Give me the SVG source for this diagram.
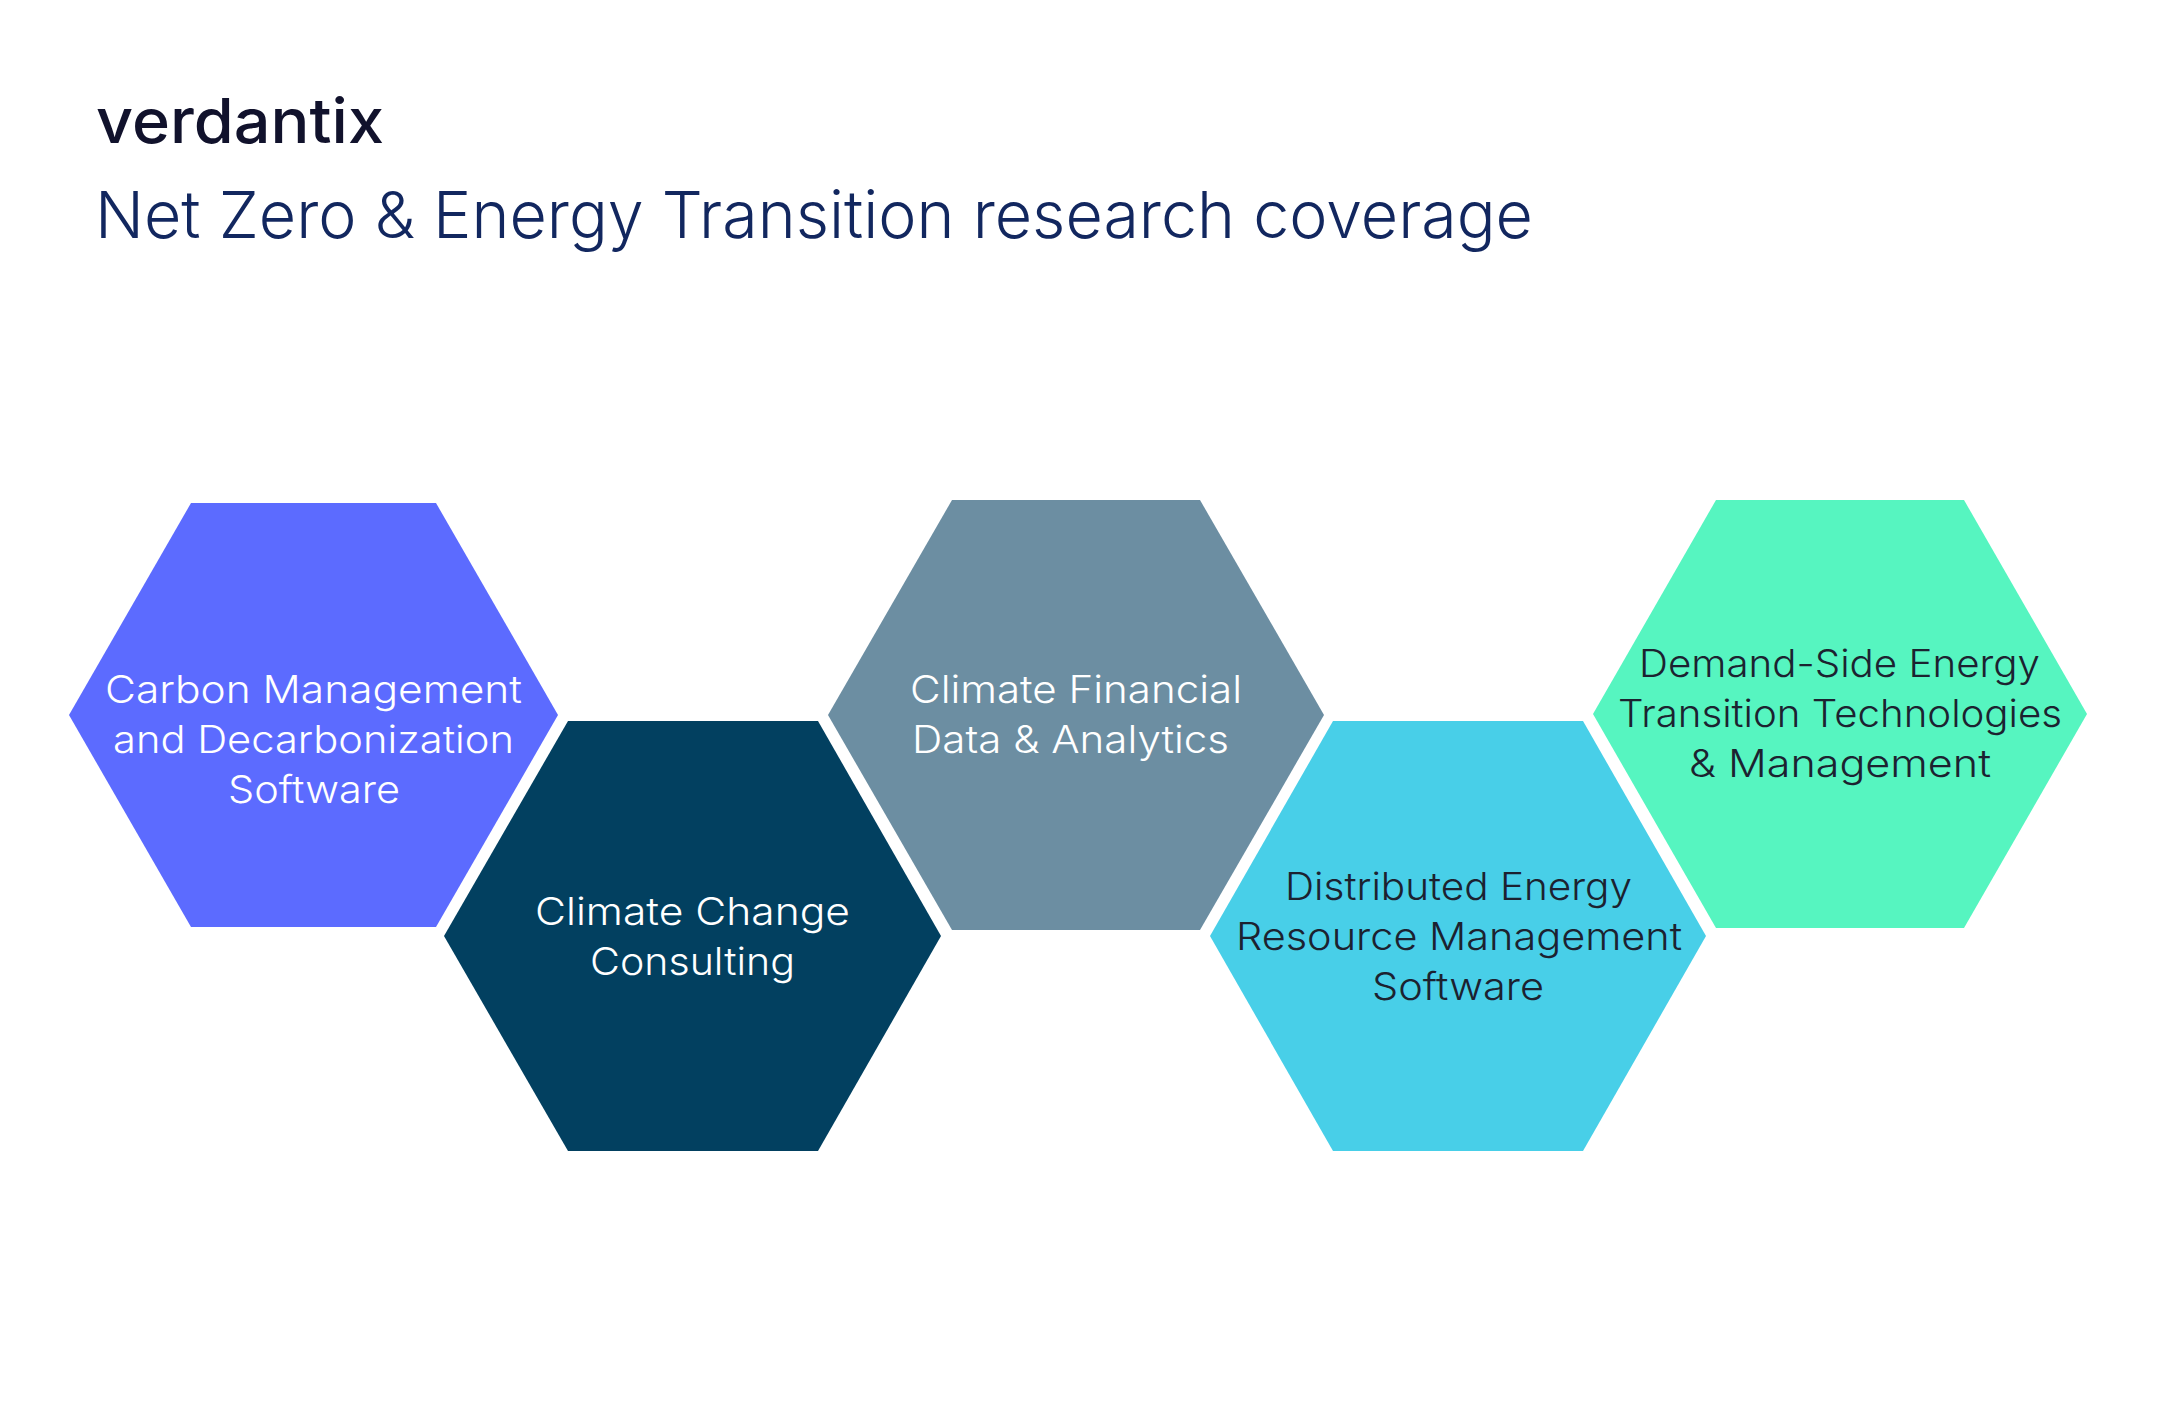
<svg xmlns="http://www.w3.org/2000/svg" width="2165" height="1422" viewBox="0 0 2165 1422">
<style>
text{font-family:"Inter","Noto Sans",sans-serif;font-variant-ligatures:none}
.l{font-size:38px;font-weight:300}
.w{fill:#fff}
.d{fill:#1c2230}
.t{font-size:65px;font-weight:350;fill:#12275f}
.logo{font-size:62px;font-weight:500;fill:#11122c}
</style>
<rect width="2165" height="1422" fill="#fff"/>
<g id="header">
<text class="logo" x="96" y="143" textLength="288" lengthAdjust="spacingAndGlyphs">verdantix</text>
<text class="t" x="95" y="238" textLength="1438" lengthAdjust="spacingAndGlyphs">Net Zero &amp; Energy Transition research coverage</text>
</g>
<g id="node-carbon">
<polygon points="191,503 436,503 558,715 436,927 191,927 69,715" fill="#5c6bff"/>
<text class="l w" x="105" y="703" textLength="417" lengthAdjust="spacingAndGlyphs">Carbon Management</text>
<text class="l w" x="113" y="753" textLength="401" lengthAdjust="spacingAndGlyphs">and Decarbonization</text>
<text class="l w" x="228" y="803" textLength="172" lengthAdjust="spacingAndGlyphs">Software</text>
</g>
<g id="node-consulting">
<polygon points="568,721 818,721 941,936 818,1151 568,1151 444,936" fill="#024060"/>
<text class="l w" x="535" y="925" textLength="315" lengthAdjust="spacingAndGlyphs">Climate Change</text>
<text class="l w" x="590" y="975" textLength="205" lengthAdjust="spacingAndGlyphs">Consulting</text>
</g>
<g id="node-financial">
<polygon points="952,500 1200,500 1324,715 1200,930 952,930 828,715" fill="#6c8ea2"/>
<text class="l w" x="910" y="703" textLength="332" lengthAdjust="spacingAndGlyphs">Climate Financial</text>
<text class="l w" x="912" y="753" textLength="317" lengthAdjust="spacingAndGlyphs">Data &amp; Analytics</text>
</g>
<g id="node-der">
<polygon points="1333,721 1583,721 1706,936 1583,1151 1333,1151 1210,936" fill="#48cfe8"/>
<text class="l d" x="1285" y="900" textLength="347" lengthAdjust="spacingAndGlyphs">Distributed Energy</text>
<text class="l d" x="1236" y="950" textLength="446" lengthAdjust="spacingAndGlyphs">Resource Management</text>
<text class="l d" x="1372" y="1000" textLength="172" lengthAdjust="spacingAndGlyphs">Software</text>
</g>
<g id="node-demand">
<polygon points="1716,500 1964,500 2087,714 1964,928 1716,928 1593,714" fill="#56f5c0"/>
<text class="l d" x="1639" y="677" textLength="401" lengthAdjust="spacingAndGlyphs">Demand-Side Energy</text>
<text class="l d" x="1618" y="727" textLength="444" lengthAdjust="spacingAndGlyphs">Transition Technologies</text>
<text class="l d" x="1689" y="777" textLength="302" lengthAdjust="spacingAndGlyphs">&amp; Management</text>
</g>
</svg>
